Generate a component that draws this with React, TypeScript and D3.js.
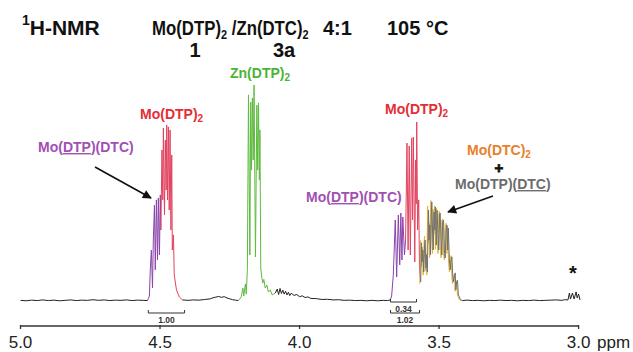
import React from "react";
import * as d3 from "d3";

type Pt = [number, number]; // [ppm, intensity]

const W = 633;
const H = 352;

// spectrum pieces (ppm, relative intensity)
const baselineA: Pt[] = [
  [5.0, 0.3], [4.98, 0.1], [4.96, 0.4], [4.94, 0.2], [4.92, 0.5], [4.9, 0.2], [4.88, 0.4], [4.86, 0.1],
  [4.84, 0.3], [4.82, 0.5], [4.8, 0.2], [4.78, 0.4], [4.76, 0.3], [4.74, 0.6], [4.72, 0.3], [4.7, 0.5],
  [4.68, 0.2], [4.66, 0.4], [4.64, 0.3], [4.62, 0.5], [4.6, 0.2], [4.58, 0.4], [4.56, 0.3], [4.545, 0.2],
];
const purpleLeft: Pt[] = [
  [4.545, 0.2], [4.538, 2.3], [4.535, 14.4], [4.531, 23.6], [4.527, 6.0], [4.524, 28.2], [4.52, 44.4],
  [4.517, 14.4], [4.513, 46.8], [4.509, 19.0], [4.506, 47.7], [4.502, 21.3], [4.499, 49.1], [4.497, 32.9],
];
const redLeft: Pt[] = [
  [4.497, 32.9], [4.493, 69.9], [4.49, 46.8], [4.488, 80.1], [4.484, 39.8], [4.481, 74.5], [4.478, 51.4],
  [4.476, 81.5], [4.473, 46.8], [4.47, 80.6], [4.467, 42.1], [4.464, 79.2], [4.461, 32.9], [4.458, 67.6],
  [4.456, 23.6], [4.452, 30.6], [4.449, 12.0], [4.441, 5.1], [4.431, 1.9], [4.42, 0.5],
];
const baselineB: Pt[] = [
  [4.42, 0.5], [4.4, 0.3], [4.38, 0.5], [4.36, 0.4], [4.34, 0.7], [4.32, 1.0], [4.31, 1.5], [4.3, 1.8],
  [4.29, 2.1], [4.28, 1.7], [4.27, 2.0], [4.26, 1.4], [4.25, 1.0], [4.24, 0.6], [4.23, 0.4], [4.219, 0.2],
];
const greenZn: Pt[] = [
  [4.219, 0.2], [4.209, 1.9], [4.203, 6.0], [4.2, 2.3], [4.194, 7.9], [4.191, 3.2], [4.187, 14.4],
  [4.183, 95.4], [4.178, 21.3], [4.175, 92.1], [4.172, 60.6], [4.169, 94.0], [4.166, 65.3], [4.163, 100],
  [4.158, 20.4], [4.153, 90.7], [4.15, 60.6], [4.147, 91.7], [4.144, 56.0], [4.142, 79.2], [4.139, 15.3],
  [4.135, 10.6], [4.132, 8.3], [4.128, 10.0], [4.123, 6.0], [4.117, 7.4], [4.112, 4.2], [4.105, 5.1],
  [4.098, 2.8], [4.087, 3.7],
];
const baselineC: Pt[] = [
  [4.087, 3.7], [4.08, 5.5], [4.075, 3.0], [4.07, 5.8], [4.065, 3.5], [4.06, 5.0], [4.055, 3.2], [4.05, 4.5],
  [4.045, 2.8], [4.04, 4.0], [4.035, 2.5], [4.03, 3.6], [4.02, 2.6], [4.01, 3.0], [4.0, 2.0], [3.99, 2.4],
  [3.98, 1.6], [3.97, 1.9], [3.96, 1.2], [3.94, 1.1], [3.92, 0.7], [3.9, 0.8], [3.88, 0.5], [3.86, 0.6],
  [3.84, 0.3], [3.82, 0.4], [3.8, 0.2], [3.78, 0.3], [3.76, 0.1], [3.74, 0.3], [3.72, 0.1], [3.7, 0.3],
  [3.685, 0.2], [3.675, 0.5],
];
const purpleRight: Pt[] = [
  [3.675, 0.5], [3.67, 2.3], [3.664, 12.0], [3.657, 37.5], [3.652, 11.1], [3.646, 39.8], [3.641, 16.7],
  [3.637, 40.7], [3.633, 19.0], [3.63, 38.9], [3.624, 21.3], [3.62, 28.2],
];
const redRight: Pt[] = [
  [3.62, 28.2], [3.615, 73.1], [3.611, 23.6], [3.607, 71.8], [3.603, 21.3], [3.598, 75.5], [3.595, 37.5],
  [3.592, 75.9], [3.587, 18.1], [3.584, 65.3], [3.582, 45.0], [3.58, 82.9], [3.577, 32.9], [3.573, 46.8],
  [3.57, 14.4], [3.566, 8.8],
];
const yellowRight: Pt[] = [
  [3.569, 8], [3.566, 28], [3.563, 16], [3.56, 25], [3.557, 12], [3.554, 27], [3.552, 30], [3.549, 14],
  [3.546, 22], [3.544, 12], [3.541, 44], [3.538, 27], [3.536, 36], [3.534, 20], [3.531, 41], [3.529, 46.5],
  [3.526, 29], [3.524, 22], [3.521, 42.5], [3.518, 31], [3.516, 44], [3.513, 24], [3.51, 43], [3.507, 29],
  [3.504, 22], [3.501, 40.5], [3.499, 41.5], [3.496, 27], [3.493, 20], [3.49, 37.5], [3.487, 38], [3.484, 22],
  [3.481, 19], [3.478, 33.5], [3.475, 36], [3.472, 22], [3.47, 34.5], [3.466, 18], [3.463, 13.5], [3.461, 17],
  [3.457, 21], [3.454, 11], [3.452, 8], [3.448, 11], [3.445, 12.5], [3.443, 4.5], [3.44, 8.5], [3.437, 9],
  [3.434, 2.5], [3.43, 1.5], [3.427, 0.6], [3.42, 0.2],
];
const grayRight: Pt[] = [
  [3.566, 8.8], [3.563, 26.9], [3.561, 18.1], [3.558, 23.6], [3.555, 13.4], [3.552, 25.9], [3.55, 28.2],
  [3.547, 15.3], [3.545, 21.3], [3.542, 13.4], [3.538, 42.1], [3.536, 28.2], [3.533, 35.2], [3.531, 21.3],
  [3.528, 39.8], [3.526, 45.8], [3.523, 30.6], [3.521, 23.6], [3.518, 41.2], [3.515, 32.9], [3.513, 43.5],
  [3.51, 25.9], [3.507, 42.1], [3.504, 30.6], [3.501, 23.6], [3.498, 39.8], [3.496, 40.7], [3.493, 28.2],
  [3.49, 21.3], [3.487, 36.6], [3.484, 37.5], [3.481, 23.6], [3.478, 19.9], [3.475, 32.9], [3.472, 35.2],
  [3.469, 23.6], [3.467, 33.8], [3.463, 19.0], [3.46, 14.4], [3.458, 18.1], [3.454, 20.4], [3.451, 12.0],
  [3.449, 8.8], [3.445, 11.6], [3.442, 13.0], [3.44, 5.1], [3.437, 8.8], [3.434, 9.7], [3.431, 2.8],
  [3.427, 1.9], [3.424, 0.7], [3.417, 0.2],
];
const baselineD: Pt[] = [
  [3.417, 0.2], [3.4, 0.4], [3.38, 0.2], [3.36, 0.3], [3.34, 0.1], [3.32, 0.3], [3.3, 0.2], [3.28, 0.4],
  [3.26, 0.2], [3.24, 0.3], [3.22, 0.1], [3.2, 0.3], [3.18, 0.2], [3.16, 0.4], [3.14, 0.2], [3.12, 0.3],
  [3.1, 0.4], [3.08, 0.5], [3.06, 0.3], [3.05, 0.6], [3.038, 0.5], [3.033, 3.7], [3.029, 0.9], [3.022, 3.7],
  [3.016, 0.9], [3.009, 4.2], [3.005, 1.4], [3.0, 3.2], [2.995, 0.5],
];

const ppmTicks = [5.0, 4.5, 4.0, 3.5, 3.0];

const integrals = [
  { from: 4.542, to: 4.412, label: "1.00", level: 1 },
  { from: 3.674, to: 3.581, label: "0.34", level: 0 },
  { from: 3.674, to: 3.57, label: "1.02", level: 1 },
];

const C = {
  black: "#222",
  purple: "#8a44aa",
  purpleText: "#a24fb3",
  red: "#e2435f",
  redText: "#e52d33",
  green: "#5dbb3f",
  greenText: "#4cb336",
  orange: "#e8802a",
  gray: "#707173",
  grayText: "#6c6c6c",
  yellow: "#e3b534",
};

const FONT = "'Liberation Sans', Arial, sans-serif";

export default function App() {
  const x = d3.scaleLinear().domain([5.0, 3.0]).range([20.5, 578.6]);
  const y = d3.scaleLinear().domain([0, 100]).range([301, 85]);
  const line = d3
    .line<Pt>()
    .x((d) => x(d[0]))
    .y((d) => y(d[1]));

  const traces = [
    { data: baselineA, color: C.black },
    { data: baselineB, color: C.black },
    { data: baselineC, color: C.black },
    { data: baselineD, color: C.black },
    { data: purpleLeft, color: C.purple },
    { data: redLeft, color: C.red },
    { data: greenZn, color: C.green },
    { data: purpleRight, color: C.purple },
    { data: redRight, color: C.red },
    { data: yellowRight, color: C.yellow },
    { data: grayRight, color: C.gray },
  ];

  const axisY = 326;
  const levelY = [302, 313];

  return (
    <svg
      width={W}
      height={H}
      style={{ position: "absolute", left: 0, top: 0, background: "#fff" }}
      fontFamily={FONT}
    >
      <defs>
        <marker
          id="ah"
          viewBox="0 0 10 10"
          refX="9"
          refY="5"
          markerUnits="userSpaceOnUse"
          markerWidth="12"
          markerHeight="9"
          orient="auto"
        >
          <path d="M0,0 L10,5 L0,10 z" fill="#111" />
        </marker>
      </defs>

      {/* header */}
      <text x={22} y={35} fontSize={21} fontWeight="bold" fill="#111">
        <tspan fontSize={14} dy={-10}>1</tspan>
        <tspan dy={10}>H-NMR</tspan>
      </text>
      <g transform="translate(152,35) scale(0.84,1)">
        <text x={0} y={0} fontSize={20} fontWeight="bold" fill="#111">
          <tspan>Mo(DTP)</tspan>
          <tspan fontSize={13} dy={4}>2</tspan>
          <tspan dy={-4}> /Zn(DTC)</tspan>
          <tspan fontSize={13} dy={4}>2</tspan>
        </text>
      </g>
      <text x={323} y={35} fontSize={20} fontWeight="bold" fill="#111">4:1</text>
      <text x={387} y={35} fontSize={20} fontWeight="bold" fill="#111">105 °C</text>
      <text x={195} y={57} fontSize={20} fontWeight="bold" fill="#111" textAnchor="middle">1</text>
      <text x={284} y={57} fontSize={20} fontWeight="bold" fill="#111" textAnchor="middle">3a</text>

      {/* spectrum */}
      {traces.map((t, i) => (
        <path key={i} d={line(t.data) ?? ""} fill="none" stroke={t.color} strokeWidth={1} strokeLinejoin="round" />
      ))}

      {/* integrals */}
      {integrals.map((g) => {
        const yy = levelY[g.level];
        const x0 = x(g.from);
        const x1 = x(g.to);
        return (
          <g key={g.label}>
            <path d={`M${x0},${yy - 3}V${yy}H${x1}V${yy - 3}`} fill="none" stroke="#333" strokeWidth={1} />
            <text x={(x0 + x1) / 2} y={yy + 10} fontSize={8.5} fontWeight="bold" fill="#333" textAnchor="middle">
              {g.label}
            </text>
          </g>
        );
      })}

      {/* axis */}
      <line x1={x(5.0)} x2={x(3.0)} y1={axisY} y2={axisY} stroke="#333" strokeWidth={1.3} />
      {ppmTicks.map((t) => (
        <g key={t}>
          <line x1={x(t)} x2={x(t)} y1={axisY - 1} y2={axisY + 3} stroke="#333" strokeWidth={1.3} />
          <text x={x(t)} y={348} fontSize={17} fill="#222" textAnchor="middle">
            {d3.format(".1f")(t)}
          </text>
        </g>
      ))}
      <text x={597} y={348} fontSize={17} fill="#222">ppm</text>

      {/* annotations */}
      <text x={230} y={78} fontSize={14} fontWeight="bold" fill={C.greenText}>
        <tspan>Zn(DTP)</tspan>
        <tspan fontSize={10} dy={3}>2</tspan>
      </text>
      <text x={140} y={119} fontSize={14} fontWeight="bold" fill={C.redText}>
        <tspan>Mo(DTP)</tspan>
        <tspan fontSize={10} dy={3}>2</tspan>
      </text>
      <text x={38} y={152} fontSize={14} fontWeight="bold" fill={C.purpleText}>
        <tspan>Mo(</tspan>
        <tspan style={{ textDecoration: "underline" }}>DTP</tspan>
        <tspan>)(DTC)</tspan>
      </text>
      <line x1={95} y1={167} x2={151} y2={198} stroke="#111" strokeWidth={1.6} markerEnd="url(#ah)" />

      <text x={385} y={114} fontSize={14} fontWeight="bold" fill={C.redText}>
        <tspan>Mo(DTP)</tspan>
        <tspan fontSize={10} dy={3}>2</tspan>
      </text>
      <text x={306} y={202} fontSize={14} fontWeight="bold" fill={C.purpleText}>
        <tspan>Mo(</tspan>
        <tspan style={{ textDecoration: "underline" }}>DTP</tspan>
        <tspan>)(DTC)</tspan>
      </text>

      <text x={467} y={155} fontSize={14} fontWeight="bold" fill={C.orange}>
        <tspan>Mo(DTC)</tspan>
        <tspan fontSize={10} dy={3}>2</tspan>
      </text>
      <text
        x={499}
        y={173}
        fontSize={15}
        fontWeight="bold"
        fill="#111"
        stroke="#111"
        strokeWidth={0.8}
        textAnchor="middle"
      >
        +
      </text>
      <text x={455} y={189} fontSize={14} fontWeight="bold" fill={C.grayText}>
        <tspan>Mo(DTP)(</tspan>
        <tspan style={{ textDecoration: "underline" }}>DTC</tspan>
        <tspan>)</tspan>
      </text>
      <line x1={493} y1={196} x2={448} y2={212} stroke="#111" strokeWidth={1.6} markerEnd="url(#ah)" />

      <text x={573} y={280} fontSize={20} fontWeight="bold" fill="#111" textAnchor="middle">*</text>
    </svg>
  );
}
